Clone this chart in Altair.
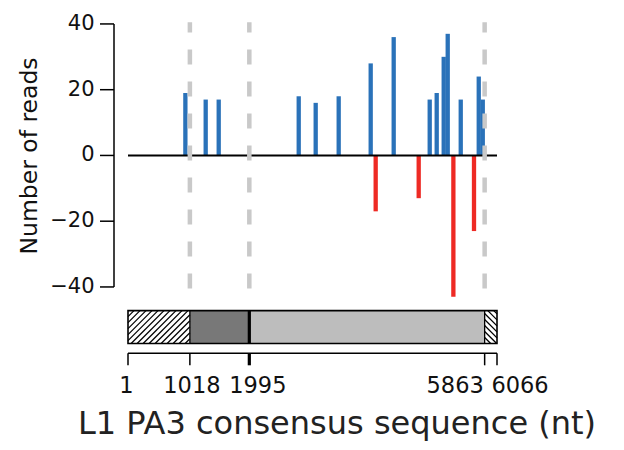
import altair as alt
import pandas as pd
import numpy as np

# ---------------- data ----------------
pos_x = [944, 1278, 1492, 2807, 3086, 3464, 3990, 4368, 4960, 5075, 5190, 5256, 5470, 5766, 5832]
pos_y = [19, 17, 17, 18, 16, 18, 28, 36, 17, 19, 30, 37, 17, 24, 17]
neg_x = [4072, 4779, 5349, 5688]
neg_y = [-17, -13, -43, -23]
boundaries = [1, 1018, 1995, 5863, 6066]
boundary_labels = ["1", "1018", "1995", "5863", "6066"]
seg_start = [1, 1018, 1995, 5863]
seg_end = [1018, 1995, 5863, 6066]
seg_fill = ["white", "#787878", "#bdbdbd", "white"]
seg_hatch = ["/", "", "", "\\"]
dash_pos = [1018, 1995, 5863]
y_ticks = [-40, -20, 0, 20, 40]
x_title = "L1 PA3 consensus sequence (nt)"
y_title = "Number of reads"

# ---------------- layout constants ----------------
W, H = 369, 323.5
YMIN, YMAX = -57.2, 41.2
BOX_TOP, BOX_BOT = -47.2, -57.2
XMIN, XMAX = 1, 6066
FONT = "DejaVu Sans"
BLUE = "#2a72b9"
RED = "#ee2a24"
label_shift_px = [-1.5, 2.0, 8.5, -29.5, 23.0]   # label placement beside ticks
tick_width = [1.5, 1.5, 3.2, 1.5, 1.5]
AX_Y = 333.3          # bottom axis line (px from plot top)
TICK_LEN = 12

xs = alt.Scale(domain=[XMIN, XMAX], nice=False, zero=False)
ys = alt.Scale(domain=[YMIN, YMAX], nice=False, zero=False)
sx = W / (XMAX - XMIN)
sy = H / (YMAX - YMIN)


def X(f):
    return alt.X(f, scale=xs, axis=None)


def Y(f):
    return alt.Y(f, scale=ys, axis=None)


bars = pd.DataFrame({
    "x": pos_x + neg_x,
    "y": pos_y + neg_y,
    "y0": [0] * (len(pos_y) + len(neg_y)),
    "sign": ["pos"] * len(pos_y) + ["neg"] * len(neg_y),
})
segs = pd.DataFrame({"x": seg_start, "x2": seg_end, "fill": seg_fill,
                     "bt": BOX_TOP, "bb": BOX_BOT})
dashes = pd.DataFrame({"x": dash_pos, "y": [-40.5] * 3, "y2": [40.5] * 3})
seps = pd.DataFrame({"x": [1018, 1995, 5863], "w": [1.3, 3.2, 1.3],
                     "bt": BOX_TOP, "bb": BOX_BOT})
one = pd.DataFrame({"x": [XMIN], "x2": [XMAX], "y": [0], "bt": [BOX_TOP], "bb": [BOX_BOT],
                    "a": [40], "b": [-40], "xt": [x_title], "yt": [y_title]})
yt = pd.DataFrame({"t": y_ticks, "lab": [str(v).replace("-", "\u2212") for v in y_ticks]})
xt = pd.DataFrame({"b": boundaries, "lab": boundary_labels, "w": tick_width,
                   "lx": [b + d / sx for b, d in zip(boundaries, label_shift_px)]})

# hatch lines derived from the hatched segment boundaries
hpx = (BOX_TOP - BOX_BOT) * sy
rows = []
for a, b, d in zip(seg_start, seg_end, seg_hatch):
    if not d:
        continue
    x0, x1 = (a - XMIN) * sx, (b - XMIN) * sx
    for c in np.arange(x0 - hpx, x1, 6.0):
        tmin = max(0.0, x0 - c)
        tmax = min(hpx, x1 - c)
        if tmax - tmin < 0.5:
            continue
        if d == "/":
            ya, yb = BOX_BOT + tmin / sy, BOX_BOT + tmax / sy
        else:
            ya, yb = BOX_TOP - tmin / sy, BOX_TOP - tmax / sy
        rows.append({"x": XMIN + (c + tmin) / sx, "x2": XMIN + (c + tmax) / sx, "y": ya, "y2": yb})
hatch = pd.DataFrame(rows)

# ---------------- layers ----------------
bar_layer = alt.Chart(bars).mark_rule(strokeWidth=4.3, strokeCap="butt").encode(
    x=X("x:Q"), y=Y("y:Q"), y2="y0:Q",
    color=alt.Color("sign:N", scale=alt.Scale(domain=["pos", "neg"], range=[BLUE, RED]), legend=None),
)

baseline = alt.Chart(one).mark_rule(color="black", strokeWidth=2).encode(
    x=X("x:Q"), x2="x2:Q", y=Y("y:Q")
)

dash_layer = alt.Chart(dashes).mark_rule(color="#c9c9c9", strokeWidth=4.5, strokeDash=[15, 17]).encode(
    x=X("x:Q"), y=Y("y:Q"), y2="y2:Q",
)

seg_layer = alt.Chart(segs).mark_rect(strokeWidth=0).encode(
    x=X("x:Q"), x2="x2:Q", y=Y("bt:Q"), y2="bb:Q",
    fill=alt.Fill("fill:N", scale=None),
)

hatch_layer = alt.Chart(hatch).mark_rule(color="black", strokeWidth=1.3).encode(
    x=X("x:Q"), x2="x2:Q", y=Y("y:Q"), y2="y2:Q",
)

sep_layer = alt.Chart(seps).mark_rule(color="black").encode(
    x=X("x:Q"), y=Y("bt:Q"), y2="bb:Q",
    strokeWidth=alt.StrokeWidth("w:Q", scale=None),
)

box_layer = alt.Chart(one).mark_rect(fill="transparent", stroke="black", strokeWidth=1.6).encode(
    x=X("x:Q"), x2="x2:Q", y=Y("bt:Q"), y2="bb:Q",
)

# left axis
yaxis_line = alt.Chart(one).mark_rule(color="black", strokeWidth=1.5).encode(
    x=alt.value(-14), y=Y("a:Q"), y2="b:Q"
)
yaxis_ticks = alt.Chart(yt).mark_rule(color="black", strokeWidth=1.5).encode(
    x=alt.value(-14), x2=alt.value(-28), y=Y("t:Q")
)
yaxis_labels = alt.Chart(yt).mark_text(font=FONT, fontSize=21, color="#111", align="right",
                                       baseline="middle").encode(
    x=alt.value(-33.5), y=Y("t:Q"), text="lab:N"
)
yaxis_title = alt.Chart(one).mark_text(font=FONT, fontSize=23.5, color="#111", align="center",
                                       baseline="alphabetic", angle=270).encode(
    x=alt.value(-91.3), y=alt.value(136), text="yt:N"
)

# bottom axis
xaxis_line = alt.Chart(one).mark_rule(color="black", strokeWidth=1.5).encode(
    x=X("x:Q"), x2="x2:Q", y=alt.value(AX_Y)
)
xaxis_ticks = alt.Chart(xt).mark_rule(color="black").encode(
    x=X("b:Q"), y=alt.value(AX_Y), y2=alt.value(AX_Y + TICK_LEN),
    strokeWidth=alt.StrokeWidth("w:Q", scale=None),
)
xaxis_labels = alt.Chart(xt).mark_text(font=FONT, fontSize=22.5, color="#111", align="center",
                                       baseline="alphabetic").encode(
    x=X("lx:Q"), y=alt.value(373.3), text="lab:N"
)
xaxis_title = alt.Chart(one).mark_text(font=FONT, fontSize=32, color="#222", align="center",
                                       baseline="alphabetic").encode(
    x=alt.value(209), y=alt.value(414), text="xt:N"
)

chart = alt.layer(
    bar_layer, baseline, dash_layer, seg_layer, hatch_layer, sep_layer, box_layer,
    yaxis_line, yaxis_ticks, yaxis_labels, yaxis_title,
    xaxis_line, xaxis_ticks, xaxis_labels, xaxis_title,
).properties(
    width=W, height=H,
    autosize=alt.AutoSizeParams(type="none"),
    padding={"left": 120, "top": 12, "right": 110, "bottom": 98.5},
).configure_view(strokeWidth=0)

chart.save("out.html", embed_options={"renderer": "svg", "actions": False})
